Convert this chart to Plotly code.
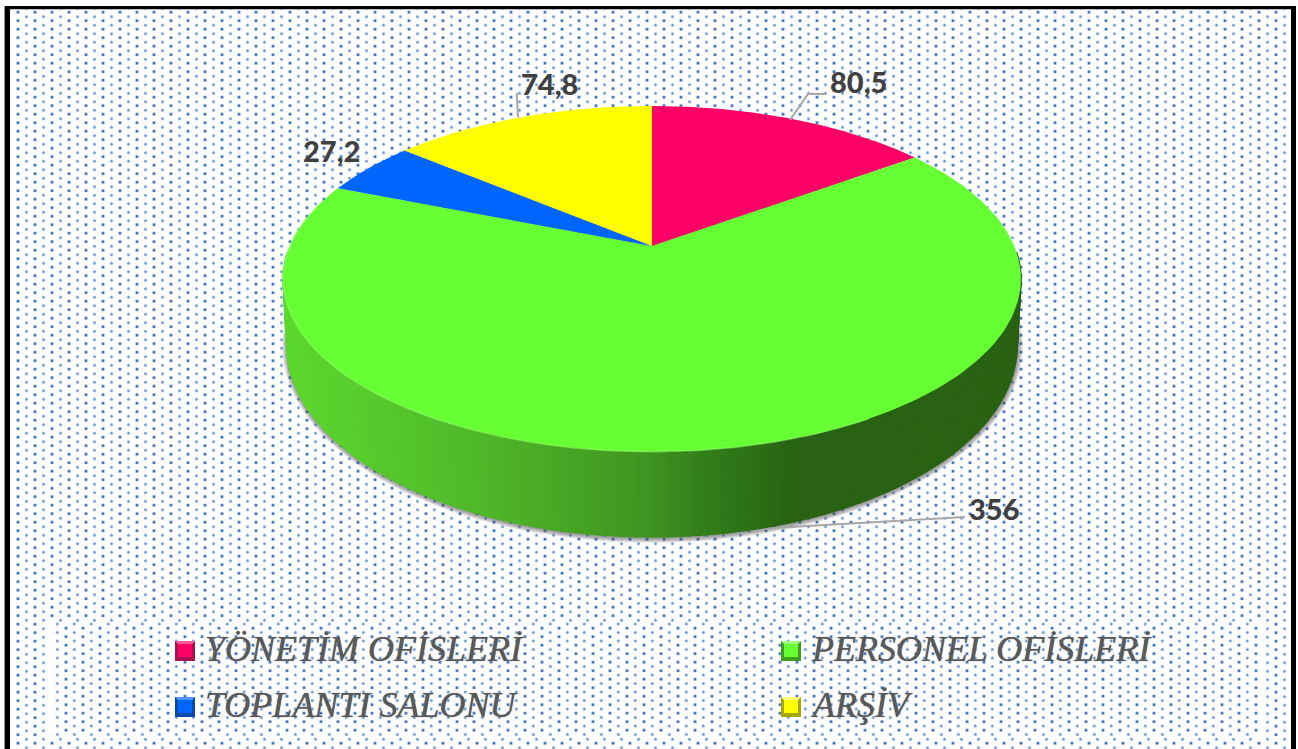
import numpy as np
import plotly.graph_objects as go

# values
categories = ["YÖNETİM OFİSLERİ", "PERSONEL OFİSLERİ", "TOPLANTI SALONU", "ARŞİV"]
values = [80.5, 356, 27.2, 74.8]
value_labels = ["80,5", "356", "27,2", "74,8"]
colors = ["#ff0066", "#66ff33", "#0066ff", "#ffff00"]
bevel_dark = ["#a8124f", "#3e9e20", "#0b4aa8", "#a8a800"]
bevel_light = ["#ff5c9a", "#9dff7c", "#4d97ff", "#ffff80"]
label_pos = [(858, 81), (994, 508), (331, 150), (549, 83)]
legend_pos = [(175, 651), (781, 651), (175, 707), (781, 707)]

# side wall gradient, by screen x
side_x = [283, 390, 500, 640, 720, 800, 1021]
side_r = [92, 86, 78, 64, 48, 40, 42]
side_g = [217, 200, 180, 150, 122, 98, 98]
side_b = [46, 44, 40, 34, 26, 18, 18]


def rim(theta, a, b, p, x0, y0):
    # perspective view of a flat circle, theta clockwise from the far side
    w = 1 + p * np.cos(theta)
    return x0 + a * np.sin(theta) / w, y0 - b * np.cos(theta) / w


def dot_grid(x_start, y_start, x_end, y_end):
    gx, gy = np.meshgrid(np.arange(x_start, x_end, 17), np.arange(y_start, y_end, 8.5))
    return gx.ravel(), gy.ravel()


top = dict(a=362.2, b=166.7, p=0.19, x0=652, y0=246)
bottom = dict(a=358.6, b=185, p=0.19, x0=652, y0=308.5)

fig = go.Figure()

# dotted background, the legend box has its own offset grid
dark_x, dark_y = dot_grid(18, 12.2, 1290, 749)
light_x, light_y = dot_grid(26.5, 8.2, 1290, 749)
keep_dark = ~((dark_x > 50) & (dark_x < 1262) & (dark_y > 622) & (dark_y < 735))
keep_light = ~((light_x > 50) & (light_x < 1262) & (light_y > 622) & (light_y < 735))
box_dark_x, box_dark_y = dot_grid(66, 628.2, 1262, 735)
box_light_x, box_light_y = dot_grid(57.3, 624, 1262, 735)
fig.add_trace(go.Scatter(x=np.r_[light_x[keep_light], box_light_x], y=np.r_[light_y[keep_light], box_light_y],
                         mode="markers", hoverinfo="skip",
                         marker=dict(symbol="circle", size=3, color="#6f9bd4",
                                     line=dict(width=0.8, color="rgba(190,215,245,0.6)"))))
fig.add_trace(go.Scatter(x=np.r_[dark_x[keep_dark], box_dark_x], y=np.r_[dark_y[keep_dark], box_dark_y],
                         mode="markers", hoverinfo="skip",
                         marker=dict(symbol="square", size=2.7, color="#3a70bd",
                                     line=dict(width=0.6, color="rgba(170,200,238,0.6)"))))

# soft shadow under the wall
t = np.linspace(0, 2 * np.pi, 240)
for grow in [5, 4, 3, 2, 1]:
    sx, sy = rim(t, **bottom)
    sx = 652 + (sx - 652) * (1 + grow / 367)
    sy = 345 + (sy - 345) * (1 + grow / 192)
    fig.add_trace(go.Scatter(x=sx + 0.5, y=sy + 1, mode="lines", fill="toself", hoverinfo="skip",
                             fillcolor="rgba(70,70,70,0.14)", line=dict(width=0)))

# this leader starts behind the wall
fig.add_trace(go.Scatter(x=[704, 790, 965], y=[533, 527, 517], mode="lines", hoverinfo="skip",
                         line=dict(width=2, color="#a6a6a6")))

# side wall as thin strips so it can shade left to right
edges = np.radians(np.linspace(92, 268, 177))
for t0, t1 in zip(edges[:-1], edges[1:]):
    tt = np.array([t0, t1])
    x1, y1 = rim(tt, **top)
    x2, y2 = rim(tt[::-1], **bottom)
    mid = x1.mean()
    col = "rgb(%d,%d,%d)" % (np.interp(mid, side_x, side_r), np.interp(mid, side_x, side_g),
                             np.interp(mid, side_x, side_b))
    fig.add_trace(go.Scatter(x=np.r_[x1, x2], y=np.r_[y1, y2], mode="lines", fill="toself",
                             hoverinfo="skip", fillcolor=col, line=dict(width=1.5, color=col)))

# top face
ends = np.cumsum(values) / np.sum(values) * 2 * np.pi
starts = np.r_[0, ends[:-1]]
for start, end, col in zip(starts, ends, colors):
    arc = np.linspace(start, end, 200)
    ax_, ay_ = rim(arc, **top)
    fig.add_trace(go.Scatter(x=np.r_[top["x0"], ax_], y=np.r_[top["y0"], ay_], mode="lines",
                             fill="toself", hoverinfo="skip", fillcolor=col, line=dict(width=0)))

# pale bevel along the front of the top face
hl = np.radians(np.linspace(150, 285, 200))
hx, hy = rim(hl, **top)
fig.add_trace(go.Scatter(x=hx, y=hy, mode="lines", hoverinfo="skip",
                         line=dict(width=1.5, color="rgba(150,255,110,0.5)")))

# other leader lines
for lx_, ly_ in [([790, 808, 825], [120, 94, 94]), ([518, 516.7], [117, 93])]:
    fig.add_trace(go.Scatter(x=lx_, y=ly_, mode="lines", hoverinfo="skip",
                             line=dict(width=2, color="#a6a6a6")))

# value labels
for txt, (x, y) in zip(value_labels, label_pos):
    fig.add_annotation(x=x, y=y, text=txt, showarrow=False, xanchor="center", yanchor="middle",
                       font=dict(family="Lato", size=29, color="#404040", weight=900))

# legend
shapes = []
for name, (x, y), col, dark, light in zip(categories, legend_pos, colors, bevel_dark, bevel_light):
    shapes.append(dict(type="rect", x0=x, x1=x + 20, y0=y - 10, y1=y + 10, fillcolor=dark,
                       line=dict(width=0), xref="x", yref="y"))
    shapes.append(dict(type="path", path=f"M{x},{y-10} L{x+20},{y-10} L{x+17},{y-7} L{x+3},{y-7} Z",
                       fillcolor=light, line=dict(width=0), xref="x", yref="y"))
    shapes.append(dict(type="rect", x0=x + 3, x1=x + 17, y0=y - 7, y1=y + 6, fillcolor=col,
                       line=dict(width=0), xref="x", yref="y"))
    fig.add_annotation(x=x + 28, y=y - 2, text=f"<i>{name}</i>", showarrow=False, xanchor="left",
                       yanchor="middle",
                       font=dict(family="Liberation Serif", size=36, color="#595959",
                                 shadow="0 0 1px #595959"))

# black frame, open at the bottom
for x0, x1, y0, y1, c in [(5, 10, 6, 749, "black"), (1291, 1296, 6, 749, "black"),
                          (5, 1296, 6, 9.3, "black"), (4, 5, 6, 749, "#999999")]:
    shapes.append(dict(type="rect", x0=x0, x1=x1, y0=y0, y1=y1, fillcolor=c,
                       line=dict(width=0), xref="x", yref="y"))

fig.update_layout(width=1298, height=749, margin=dict(l=0, r=0, t=0, b=0), showlegend=False,
                  paper_bgcolor="white", plot_bgcolor="white", shapes=shapes,
                  xaxis=dict(range=[0, 1298], visible=False, fixedrange=True),
                  yaxis=dict(range=[749, 0], visible=False, fixedrange=True))

fig.write_html("out.html", config={"displayModeBar": False},
               post_script="document.body.style.margin='0';document.body.style.overflow='hidden';")
